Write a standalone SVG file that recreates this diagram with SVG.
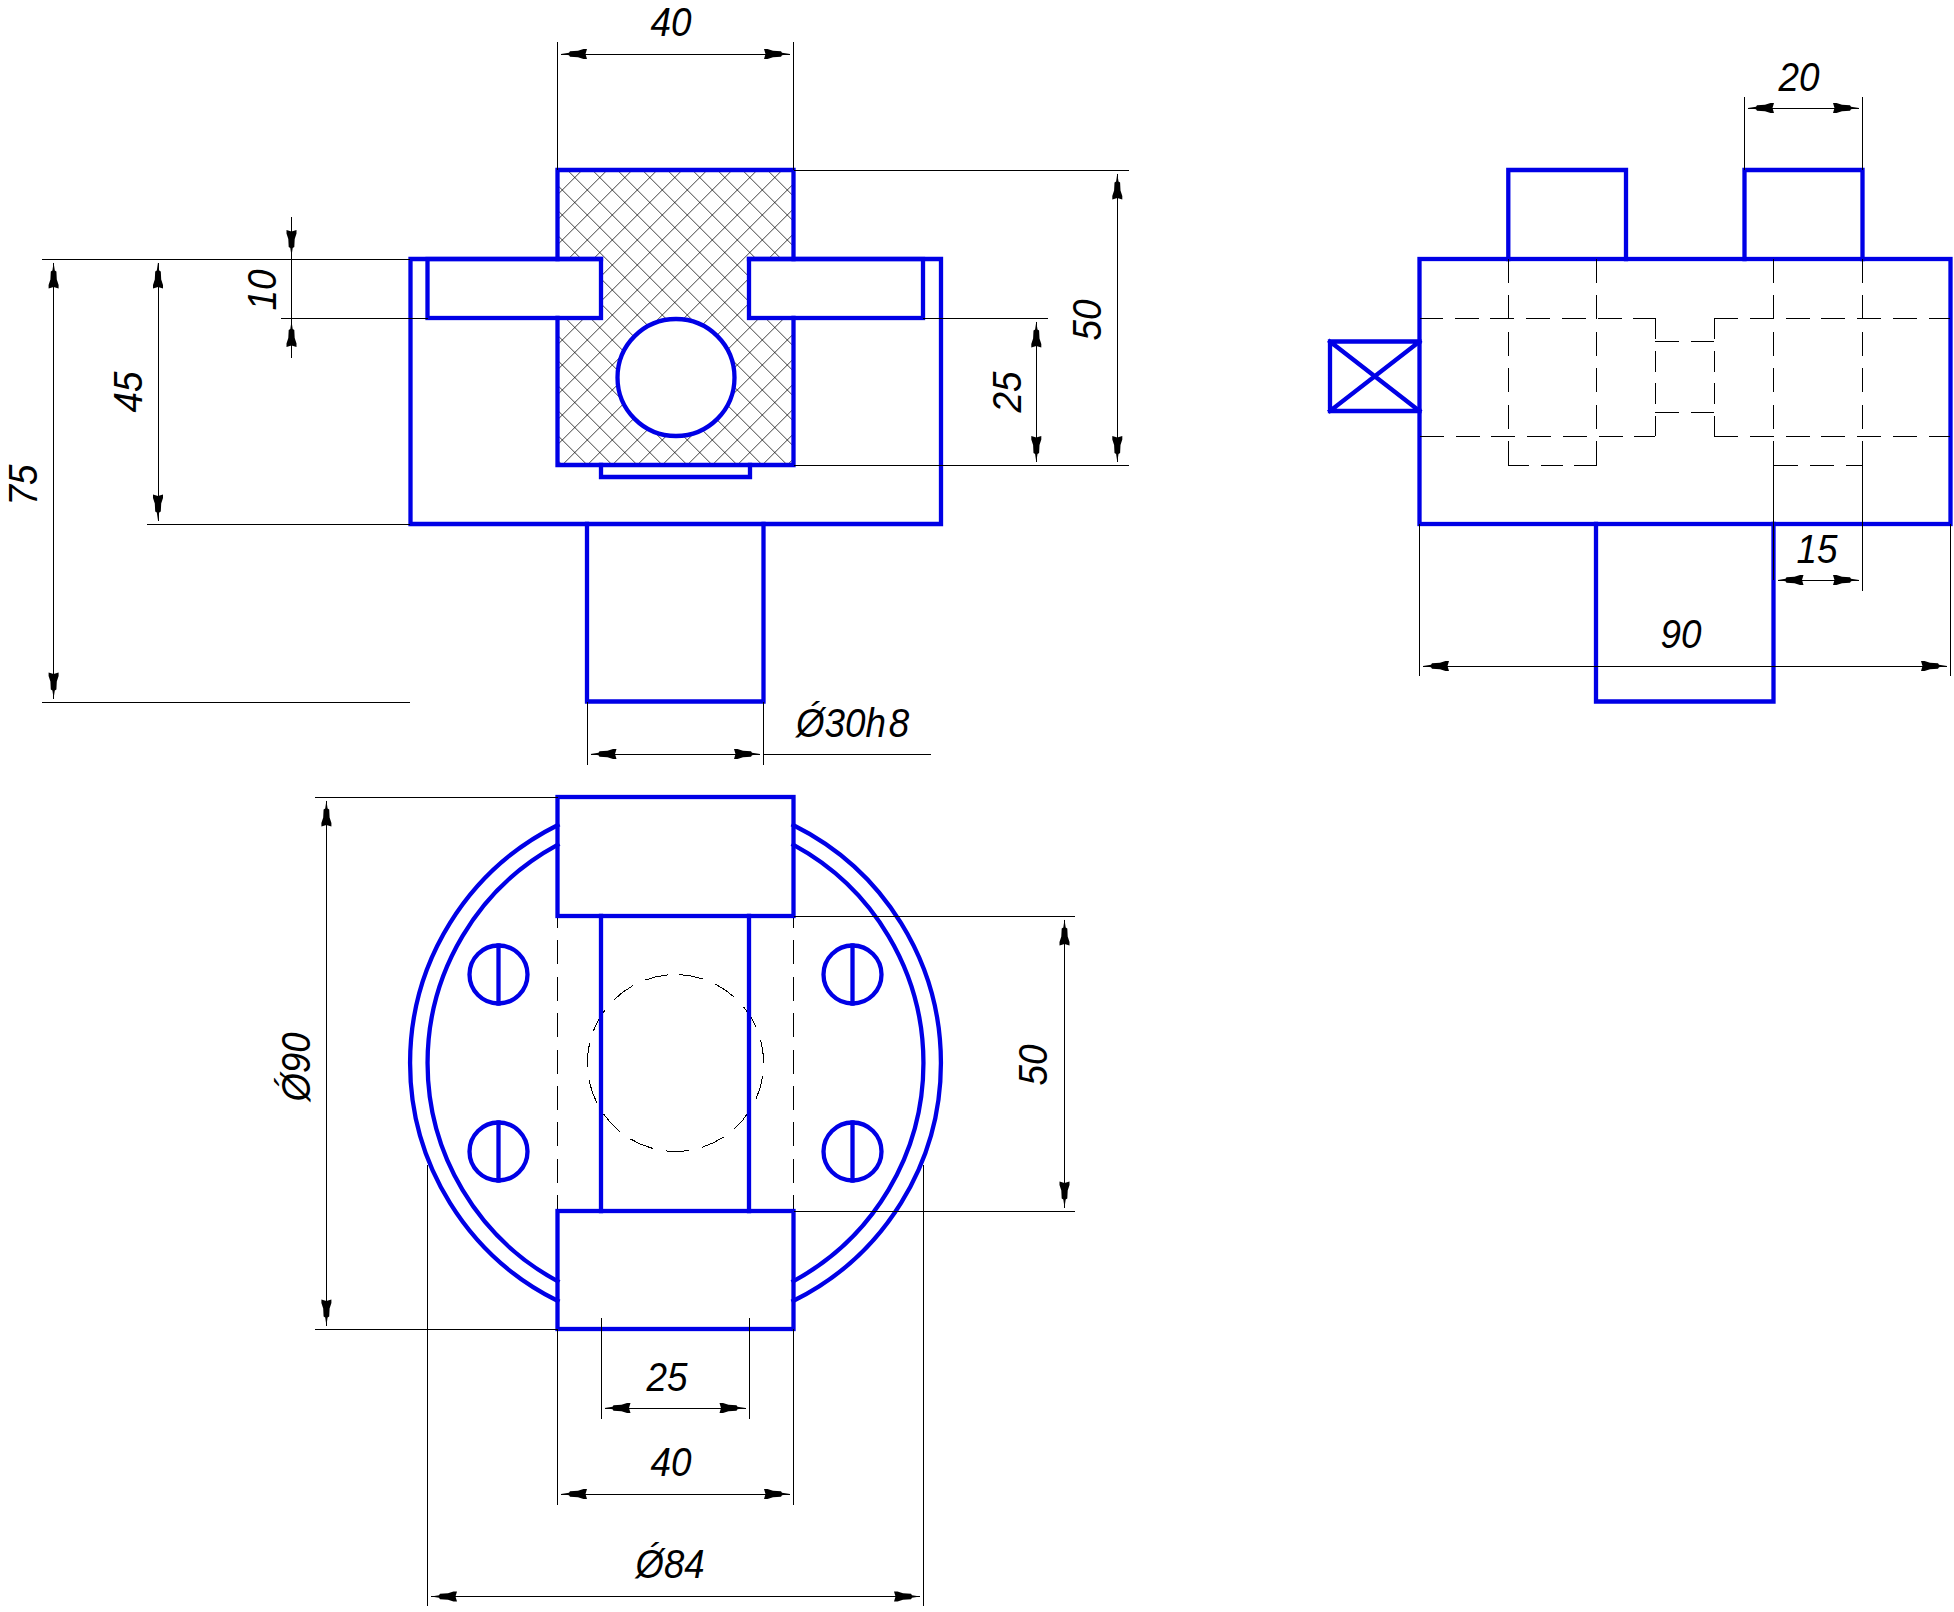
<svg xmlns="http://www.w3.org/2000/svg" width="1954" height="1612" viewBox="0 0 1954 1612">
<style>
.b{fill:none;stroke:#0000e6;stroke-width:4.3;stroke-linecap:square;stroke-linejoin:miter}
.k{fill:none;stroke:#000;stroke-width:1;shape-rendering:crispEdges}
.d{fill:none;stroke:#000;stroke-width:1;stroke-dasharray:24 12.4;shape-rendering:crispEdges}
.h{fill:none;stroke:#000;stroke-width:1;stroke-dasharray:24 11.7;shape-rendering:crispEdges}
.x{fill:none;stroke:#000;stroke-width:.75}
.a{marker-end:url(#arr)}
.aa{marker-start:url(#arr);marker-end:url(#arr)}
text{font-family:"Liberation Sans",Arial,sans-serif;font-style:italic;font-size:40px;fill:#000;text-anchor:middle}
</style>
<defs>
<marker id="arr" markerUnits="userSpaceOnUse" viewBox="-27 -6 28 12" markerWidth="28" markerHeight="12" refX="0" refY="0" orient="auto-start-reverse">
<path d="M0 0L-8 -1.2L-9 -2.8L-17 -3.2L-22.5 -5L-26 -5L-24.5 0L-26 5L-22.5 5L-17 3.2L-9 2.8L-8 1.2Z" fill="#000"/>
</marker>
<clipPath id="hatch-clip">
<path clip-rule="evenodd" d="M557.5 170H793.5V259H749V318H793.5V465H557.5V318H601V259H557.5ZM735 377.5A59 59 0 1 0 617 377.5A59 59 0 1 0 735 377.5Z"/>
</clipPath>
</defs>
<rect width="1954" height="1612" fill="#fff"/>

<g id="front-section">
<g clip-path="url(#hatch-clip)">
<path class="x" d="M557.3 170l-295 295m320 -295l-295 295m320 -295l-295 295m320 -295l-295 295m320 -295l-295 295m320 -295l-295 295m320 -295l-295 295m320 -295l-295 295m320 -295l-295 295m320 -295l-295 295m320 -295l-295 295m320 -295l-295 295m320 -295l-295 295m320 -295l-295 295m320 -295l-295 295m320 -295l-295 295m320 -295l-295 295m320 -295l-295 295m320 -295l-295 295m320 -295l-295 295m320 -295l-295 295m320 -295l-295 295"/>
<path class="x" d="M267.3 170l295 295m-270 -295l295 295m-270 -295l295 295m-270 -295l295 295m-270 -295l295 295m-270 -295l295 295m-270 -295l295 295m-270 -295l295 295m-270 -295l295 295m-270 -295l295 295m-270 -295l295 295m-270 -295l295 295m-270 -295l295 295m-270 -295l295 295m-270 -295l295 295m-270 -295l295 295m-270 -295l295 295m-270 -295l295 295m-270 -295l295 295m-270 -295l295 295m-270 -295l295 295"/>
</g>
<path class="b" d="M557.5 259V170H793.5V259M557.5 318V465H793.5V318"/>
<path class="b" d="M601 259H410.5V524H941V259H749"/>
<rect class="b" x="427.5" y="259" width="173.5" height="59"/>
<rect class="b" x="749" y="259" width="174" height="59"/>
<circle class="b" cx="676" cy="377.5" r="58.5"/>
<path class="b" d="M601 465V477H750V465"/>
<path class="b" d="M587 524V701.5H763.5V524"/>
</g>

<g id="side-view">
<rect class="b" x="1419.5" y="259" width="531" height="265"/>
<path class="b" d="M1508.3 259V170H1626V259"/>
<path class="b" d="M1744.5 259V170H1862.5V259"/>
<path class="b" d="M1596 524V701.5H1773.5V524"/>
<path class="b" d="M1419.5 341.5H1330V411H1419.5M1330 341.5L1419.5 411M1330 411L1419.5 341.5"/>
<path class="d" d="M1508.3 259V465"/>
<path class="d" d="M1596.7 259V465"/>
<path class="k" d="M1508.3 465.3H1597" stroke-dasharray="21 12 22 11 23"/>
<path class="h" d="M1420 318.3H1655.3" stroke-dashoffset="1"/>
<path class="h" d="M1420 436.3H1655.3" stroke-dashoffset="0"/>
<path class="k" d="M1655.3 318.3V436.3" stroke-dasharray="21 11.5"/>
<path class="k" d="M1714.3 318.3V436.3" stroke-dasharray="21 11.5"/>
<path class="k" d="M1655.3 341.3H1714.3" stroke-dasharray="24 12"/>
<path class="k" d="M1655.3 412.3H1714.3" stroke-dasharray="24 12"/>
<path class="h" d="M1714.3 318.3H1950"/>
<path class="h" d="M1714.3 436.3H1950"/>
<path class="d" d="M1773.7 259V441"/>
<path class="d" d="M1862.4 259V441"/>
<path class="k" d="M1773.7 465.3H1862.4" stroke-dasharray="24 12"/>
</g>

<g id="top-view">
<path class="b" d="M557.5 825.2A265.5 265.5 0 0 0 557.5 1300.8M793.5 825.2A265.5 265.5 0 0 1 793.5 1300.8"/>
<path class="b" d="M557.5 844.9A248 248 0 0 0 557.5 1281.1M793.5 844.9A248 248 0 0 1 793.5 1281.1"/>
<path d="M679 974.57A88.5 88.5 0 0 1 672 1151.43A88.5 88.5 0 0 1 679 974.57" fill="none" stroke="#000" stroke-width="1" stroke-dasharray="24 13.07" shape-rendering="crispEdges"/>
<path class="k" d="M557.5 916V1211M793.5 916V1211" stroke-dasharray="24 12.4" stroke-dashoffset="12"/>
<rect class="b" x="557.5" y="797" width="236" height="119"/>
<rect class="b" x="557.5" y="1211" width="236" height="118"/>
<path class="b" d="M601 916V1211M749 916V1211"/>
<g id="screw-1"><circle class="b" cx="498.5" cy="974.5" r="29"/><path class="b" d="M498.5 945.5V1003.5"/></g>
<g id="screw-2"><circle class="b" cx="852.5" cy="974.5" r="29"/><path class="b" d="M852.5 945.5V1003.5"/></g>
<g id="screw-3"><circle class="b" cx="498.5" cy="1151.5" r="29"/><path class="b" d="M498.5 1122.5V1180.5"/></g>
<g id="screw-4"><circle class="b" cx="852.5" cy="1151.5" r="29"/><path class="b" d="M852.5 1122.5V1180.5"/></g>
</g>

<g id="connectors">
<path class="k" d="M557.3 42V170M793.5 42V170"/>
<line class="k aa" x1="561" y1="54" x2="790" y2="54"/>
<path class="k" d="M42 259H410M42 702H410M147 524H410M280.6 318H427.5"/>
<line class="k aa" x1="53.6" y1="262.5" x2="53.6" y2="698.5"/>
<line class="k aa" x1="158" y1="262.5" x2="158" y2="520.5"/>
<path class="k" d="M291.5 256V321"/>
<line class="k a" x1="291.5" y1="217" x2="291.5" y2="256"/>
<line class="k a" x1="291.5" y1="358" x2="291.5" y2="321"/>
<path class="k" d="M793.5 170H1129M923 318.3H1047.7M793.5 465.3H1129"/>
<line class="k aa" x1="1036.3" y1="321.5" x2="1036.3" y2="462"/>
<line class="k aa" x1="1117.3" y1="173.5" x2="1117.3" y2="462"/>
<path class="k" d="M587 702V765M763.5 702V765M763.5 754H931"/>
<line class="k aa" x1="590.5" y1="754" x2="760" y2="754"/>
<path class="k" d="M1744.5 97V170M1862.4 97V170"/>
<line class="k aa" x1="1748" y1="108" x2="1859" y2="108"/>
<path class="k" d="M1773.7 441V580M1862.4 441V591"/>
<line class="k aa" x1="1777.5" y1="580" x2="1859" y2="580"/>
<path class="k" d="M1419.5 524V676M1950.5 524V676"/>
<line class="k aa" x1="1423" y1="666" x2="1947" y2="666"/>
<path class="k" d="M315 797H557.5M315 1329H557.5"/>
<line class="k aa" x1="326.4" y1="800.5" x2="326.4" y2="1325.5"/>
<path class="k" d="M793.5 916H1075M793.5 1211H1075"/>
<line class="k aa" x1="1064.5" y1="919.5" x2="1064.5" y2="1207.5"/>
<path class="k" d="M601 1318V1419M749 1318V1419"/>
<line class="k aa" x1="604.5" y1="1408" x2="745.5" y2="1408"/>
<path class="k" d="M557.5 1329V1505M793.5 1329V1505"/>
<line class="k aa" x1="561" y1="1494" x2="790" y2="1494"/>
<path class="k" d="M427.6 1165V1606M923.6 1165V1606"/>
<line class="k aa" x1="431" y1="1596.5" x2="920" y2="1596.5"/>
</g>

<g id="labels">
<text x="671" y="36" textLength="41" lengthAdjust="spacingAndGlyphs">40</text>
<text transform="translate(37 485) rotate(-90)" textLength="41" lengthAdjust="spacingAndGlyphs">75</text>
<text transform="translate(142 392) rotate(-90)" textLength="41" lengthAdjust="spacingAndGlyphs">45</text>
<text transform="translate(276 290) rotate(-90)" textLength="41" lengthAdjust="spacingAndGlyphs">10</text>
<text transform="translate(1021 392) rotate(-90)" textLength="41" lengthAdjust="spacingAndGlyphs">25</text>
<text transform="translate(1101 320) rotate(-90)" textLength="41" lengthAdjust="spacingAndGlyphs">50</text>
<text transform="translate(796 737) scale(.92 1)" style="text-anchor:start">Ǿ30h<tspan dx="3">8</tspan></text>
<text x="1799" y="91" textLength="41" lengthAdjust="spacingAndGlyphs">20</text>
<text x="1817" y="563" textLength="41" lengthAdjust="spacingAndGlyphs">15</text>
<text x="1681" y="648" textLength="41" lengthAdjust="spacingAndGlyphs">90</text>
<text transform="translate(310 1067) rotate(-90)" textLength="69" lengthAdjust="spacingAndGlyphs">Ǿ90</text>
<text transform="translate(1047 1065) rotate(-90)" textLength="41" lengthAdjust="spacingAndGlyphs">50</text>
<text x="667" y="1391" textLength="41" lengthAdjust="spacingAndGlyphs">25</text>
<text x="671" y="1476" textLength="41" lengthAdjust="spacingAndGlyphs">40</text>
<text x="670" y="1578" textLength="69" lengthAdjust="spacingAndGlyphs">Ǿ84</text>
</g>
</svg>
